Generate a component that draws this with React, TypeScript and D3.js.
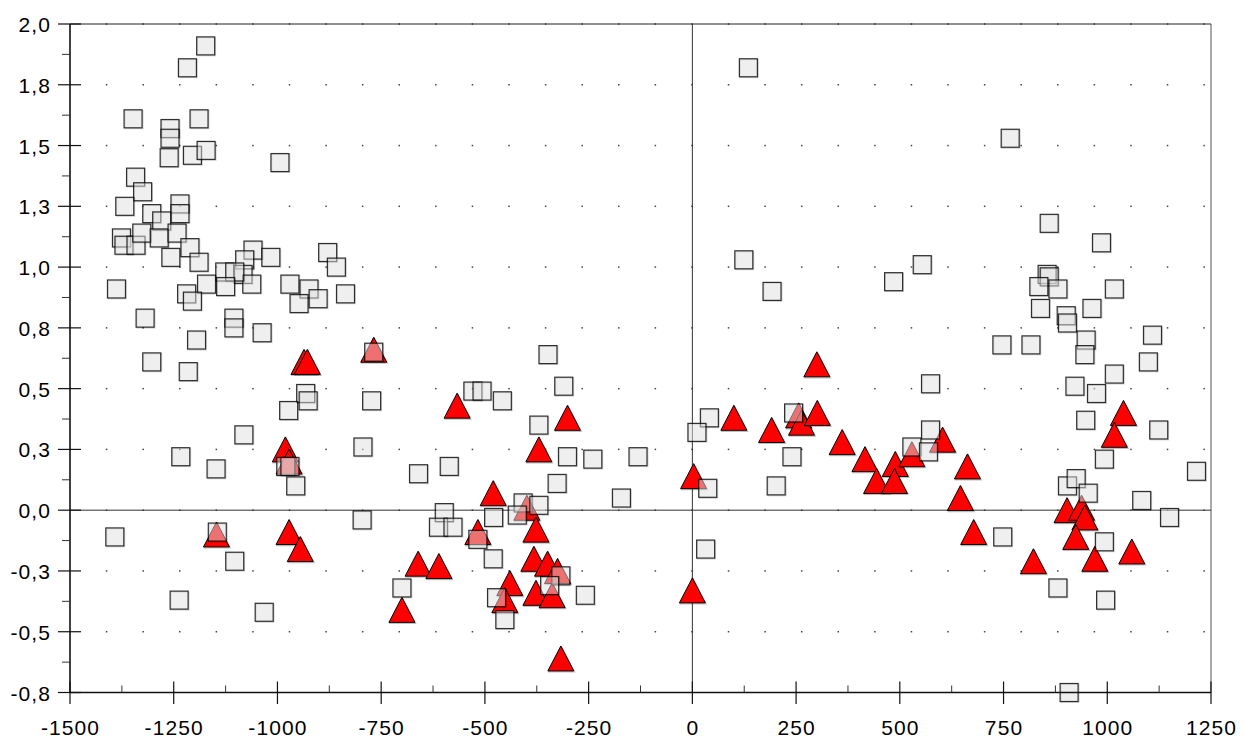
import React from "react";
import * as d3 from "d3";

// Grey squares (x, y)
const squares: [number, number][] = [
  [-1173, 1.91], [-1217, 1.82], [-1348, 1.61], [-1189, 1.61], [-1259, 1.57], [-1259, 1.53],
  [-1261, 1.45], [-1205, 1.46], [-1172, 1.48], [-994, 1.43], [-1342, 1.37], [-1325, 1.31],
  [-1368, 1.25], [-1235, 1.26], [-1235, 1.22], [-1303, 1.22], [-1279, 1.19], [-1376, 1.12],
  [-1370, 1.09], [-1341, 1.09], [-1327, 1.14], [-1285, 1.12], [-1242, 1.14], [-1257, 1.04],
  [-1211, 1.08], [-1189, 1.02], [-1059, 1.07], [-1079, 1.03], [-1083, 0.97], [-1062, 0.93],
  [-1127, 0.98], [-1103, 0.98], [-1171, 0.93], [-1125, 0.92], [-1219, 0.89], [-1205, 0.86],
  [-1388, 0.91], [-1016, 1.04], [-970, 0.93], [-924, 0.91], [-902, 0.87], [-948, 0.85],
  [-879, 1.06], [-858, 1.0], [-836, 0.89], [-1319, 0.79], [-1105, 0.79], [-1105, 0.75],
  [-1037, 0.73], [-1195, 0.7], [-1303, 0.61], [-1215, 0.57],
  [-932, 0.48], [-926, 0.45], [-973, 0.41], [-773, 0.45], [-768, 0.65], [-1081, 0.31],
  [-794, 0.26], [-980, 0.18], [-970, 0.18], [-956, 0.1], [-1148, 0.17], [-1233, 0.22],
  [-1392, -0.11], [-1145, -0.09], [-1103, -0.21], [-796, -0.04], [-1237, -0.37], [-1032, -0.42],
  [-700, -0.32],
  [-660, 0.15], [-586, 0.18], [-529, 0.49], [-507, 0.49], [-458, 0.45], [-348, 0.64],
  [-310, 0.51], [-370, 0.35], [-301, 0.22], [-240, 0.21], [-131, 0.22], [-326, 0.11],
  [-171, 0.05], [-408, 0.03], [-370, 0.02], [-422, -0.02], [-598, -0.01], [-612, -0.07],
  [-577, -0.07], [-479, -0.03], [-517, -0.12], [-480, -0.2], [-317, -0.27], [-344, -0.31],
  [-258, -0.35], [-472, -0.36], [-452, -0.45],
  [135, 1.82], [766, 1.53], [860, 1.18], [986, 1.1], [124, 1.03], [192, 0.9],
  [485, 0.94], [554, 1.01], [855, 0.97], [860, 0.96], [835, 0.92], [881, 0.91],
  [1017, 0.91], [839, 0.83], [963, 0.83], [901, 0.8], [904, 0.77], [1109, 0.72],
  [746, 0.68], [816, 0.68], [949, 0.7], [946, 0.64], [1099, 0.61], [1017, 0.56],
  [922, 0.51], [974, 0.48], [574, 0.52], [948, 0.37], [1124, 0.33], [993, 0.21],
  [1215, 0.16], [41, 0.38], [11, 0.32], [244, 0.4], [240, 0.22], [202, 0.1],
  [574, 0.33], [529, 0.26], [569, 0.24], [37, 0.09], [32, -0.16], [748, -0.11],
  [904, 0.1], [925, 0.13], [954, 0.07], [993, -0.13], [1083, 0.04], [1150, -0.03],
  [881, -0.32], [996, -0.37], [908, -0.75],
];

// Red triangles (x, y)
const triangles: [number, number][] = [
  [-936, 0.61], [-928, 0.61], [-768, 0.66], [-981, 0.25], [-972, 0.2], [-567, 0.43],
  [-301, 0.38], [-370, 0.25], [-480, 0.07], [-399, 0.01], [-377, -0.08], [-517, -0.09],
  [-1147, -0.1], [-972, -0.09], [-945, -0.16], [-661, -0.22], [-611, -0.23], [-700, -0.41],
  [-382, -0.2], [-349, -0.22], [-325, -0.25], [-440, -0.3], [-452, -0.37], [-377, -0.34],
  [-338, -0.35], [-317, -0.61], [3, 0.14], [0, -0.33], [100, 0.38], [191, 0.33],
  [256, 0.39], [263, 0.36], [301, 0.4], [300, 0.6], [361, 0.28], [416, 0.21],
  [444, 0.12], [489, 0.19], [487, 0.12], [529, 0.23], [603, 0.29], [663, 0.18],
  [646, 0.05], [678, -0.09], [1039, 0.4], [1017, 0.31], [903, 0.0], [938, 0.01],
  [946, -0.03], [924, -0.11], [970, -0.2], [1059, -0.17], [822, -0.21],
];

const xTickValues = [-1500, -1250, -1000, -750, -500, -250, 0, 250, 500, 750, 1000, 1250];
const xTickLabels = ["-1500", "-1250", "-1000", "-750", "-500", "-250", "0", "250", "500", "750", "1000", "1250"];
const yTickValues = [2.0, 1.75, 1.5, 1.25, 1.0, 0.75, 0.5, 0.25, 0, -0.25, -0.5, -0.75];
const yTickLabels = ["2,0", "1,8", "1,5", "1,3", "1,0", "0,8", "0,5", "0,3", "0,0", "-0,3", "-0,5", "-0,8"];

const W = 1243;
const H = 740;
const LEFT = 70;
const RIGHT = 1211;
const TOP = 24;
const BOTTOM = 692.5;
const DOT_COUNT = 31;
const DOT_STEP = 36.585;

export default function App() {
  const x = d3.scaleLinear().domain([-1500, 1250]).range([LEFT, RIGHT]);
  const y = d3.scaleLinear().domain([-0.75, 2.0]).range([BOTTOM, TOP]);

  const xMinor = xTickValues.slice(0, -1).map((v, i) => (v + xTickValues[i + 1]) / 2);
  const yMinor = yTickValues.slice(0, -1).map((v, i) => (v + yTickValues[i + 1]) / 2);
  const dotCols = d3.range(1, DOT_COUNT + 1).map((k) => LEFT + k * DOT_STEP);
  const dotRows = yTickValues.filter((v) => v > -0.75);

  const tri = "M0,-12.5L13,12.5L-13,12.5Z";
  const font = "'Liberation Sans', Arial, Helvetica, sans-serif";

  return (
    <svg
      width={W}
      height={H}
      style={{ position: "absolute", left: 0, top: 0, background: "#fff" }}
      fontFamily={font}
    >
      {/* grid dots */}
      <g fill="#444">
        {dotRows.map((r) =>
          dotCols.map((c) => (
            <rect key={`${r}-${c}`} x={c - 0.75} y={y(r) - 0.75} width={1.5} height={1.5} />
          ))
        )}
      </g>

      {/* frame */}
      <line x1={LEFT} x2={RIGHT} y1={TOP} y2={TOP} stroke="#222" strokeWidth={1} />
      <line x1={RIGHT} x2={RIGHT} y1={TOP} y2={BOTTOM} stroke="#555" strokeWidth={1} />

      {/* zero lines */}
      <line x1={LEFT} x2={RIGHT} y1={y(0)} y2={y(0)} stroke="#333" strokeWidth={1} />
      <line x1={x(0)} x2={x(0)} y1={TOP} y2={BOTTOM} stroke="#333" strokeWidth={1} />

      {/* triangles */}
      <g>
        {triangles.map(([vx, vy], i) => (
          <g key={`t${i}`} transform={`translate(${x(vx)},${y(vy)})`}>
            <path d={tri} transform="translate(0.8,1)" fill="none" stroke="#000" strokeOpacity={0.25} strokeWidth={1.2} />
            <path d={tri} fill="#ff0000" stroke="#000" strokeWidth={1} strokeLinejoin="miter" />
          </g>
        ))}
      </g>

      {/* squares */}
      <g>
        {squares.map(([vx, vy], i) => (
          <g key={`s${i}`} transform={`translate(${x(vx)},${y(vy)})`}>
            <rect x={-8.2} y={-8.2} width={18} height={18} fill="none" stroke="#000" strokeOpacity={0.2} strokeWidth={1.2} />
            <rect
              x={-9}
              y={-9}
              width={18}
              height={18}
              fill="rgb(224,224,224)"
              fillOpacity={0.5}
              stroke="#000"
              strokeOpacity={0.8}
              strokeWidth={1.2}
            />
          </g>
        ))}
      </g>

      {/* axes */}
      <line x1={LEFT} x2={LEFT} y1={TOP} y2={BOTTOM} stroke="#111" strokeWidth={1.6} />
      <line x1={LEFT} x2={RIGHT} y1={BOTTOM} y2={BOTTOM} stroke="#111" strokeWidth={1.4} />

      {yTickValues.map((v) => (
        <line key={`ym${v}`} x1={LEFT - 12} x2={LEFT + 11} y1={y(v)} y2={y(v)} stroke="#111" strokeWidth={1.2} />
      ))}
      {yMinor.map((v) => (
        <line key={`yn${v}`} x1={LEFT - 8} x2={LEFT} y1={y(v)} y2={y(v)} stroke="#333" strokeWidth={1} />
      ))}
      {xTickValues.map((v) => (
        <line key={`xm${v}`} x1={x(v)} x2={x(v)} y1={BOTTOM - 11} y2={BOTTOM + 11.5} stroke="#111" strokeWidth={1.2} />
      ))}
      {xMinor.map((v) => (
        <line key={`xn${v}`} x1={x(v)} x2={x(v)} y1={BOTTOM - 7} y2={BOTTOM} stroke="#333" strokeWidth={1} />
      ))}

      {/* labels */}
      <g fontSize={21} fill="#000" letterSpacing={1.1}>
        {yTickValues.map((v, i) => (
          <text key={`yl${v}`} x={51} y={y(v) + 8} textAnchor="end">
            {yTickLabels[i]}
          </text>
        ))}
        {xTickValues.map((v, i) => (
          <text key={`xl${v}`} x={x(v) + 0.5} y={735} textAnchor="middle">
            {xTickLabels[i]}
          </text>
        ))}
      </g>
    </svg>
  );
}
